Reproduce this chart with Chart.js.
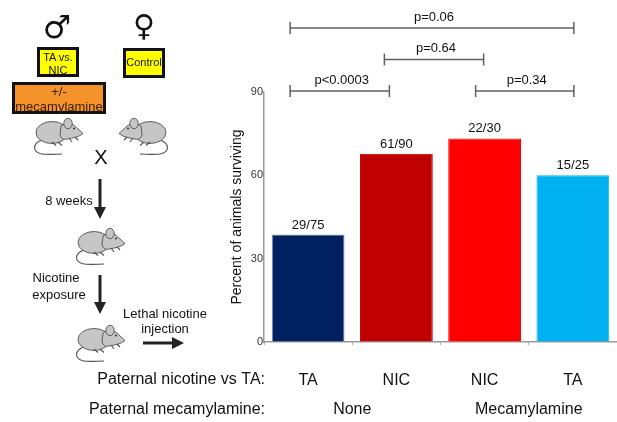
<!DOCTYPE html>
<html>
<head>
<meta charset="utf-8">
<script src="https://cdn.jsdelivr.net/npm/chart.js@4"></script>
<style>
  html, body { margin: 0; padding: 0; background: #fff; }
  #wrap { position: relative; width: 617px; height: 422px; }
  #chart { position: absolute; left: 0; top: 0; }
  #diagram { position: absolute; left: 0; top: 0; pointer-events: none; }
  #diagram text { font-family: "Liberation Sans", Arial, sans-serif; fill: #111; }
</style>
</head>
<body>
<div id="wrap">
  <canvas id="chart" width="617" height="422"></canvas>
  <svg id="diagram" width="230" height="422" viewBox="0 0 230 422">
    <defs>
      <marker id="ah" markerWidth="4" markerHeight="4" refX="2" refY="2" orient="auto" markerUnits="strokeWidth">
        <path d="M0,0 L4,2 L0,4 Z" fill="#222"/>
      </marker>
      <g id="mouse">
        <path d="M10 22 C 1 25, 0 33, 8 35.5 C 14 37, 22 36.5, 30 36" fill="none" stroke="#505050" stroke-width="1.1"/>
        <ellipse cx="20" cy="14.5" rx="16" ry="11" fill="#c6c6c6" stroke="#505050" stroke-width="0.9"/>
        <path d="M29 8 C 34 4, 41 5, 45 10 L 51 15.5 C 47 19, 41 20, 35 21 C 31 22, 29 20, 28 17 Z" fill="#c6c6c6" stroke="#505050" stroke-width="0.9"/>
        <ellipse cx="36" cy="5.5" rx="4.2" ry="5.2" fill="#c6c6c6" stroke="#505050" stroke-width="0.9"/>
        <circle cx="42" cy="10.5" r="1" fill="#333"/>
        <path d="M20 24 L24 27.5 M26 24 L30 27.5 M37 20 L40 24 M43 19 L46 22" stroke="#505050" stroke-width="1.1" fill="none"/>
      </g>
    </defs>
    <!-- sex symbols -->
    <text x="57" y="38" font-size="32" text-anchor="middle" style="font-family:'DejaVu Sans';font-weight:bold">♂</text>
    <text x="144" y="36" font-size="30" text-anchor="middle" style="font-family:'DejaVu Sans';font-weight:bold">♀</text>
    <!-- boxes -->
    <rect x="38.5" y="48.5" width="39" height="27" fill="#ffff00" stroke="#111" stroke-width="3"/>
    <text x="58" y="61" font-size="11" text-anchor="middle">TA vs.</text>
    <text x="58" y="74" font-size="11" text-anchor="middle">NIC</text>
    <rect x="124.5" y="49.5" width="39" height="27" fill="#ffff00" stroke="#111" stroke-width="3"/>
    <text x="144" y="66" font-size="11" text-anchor="middle">Control</text>
    <rect x="13.5" y="83.5" width="91" height="29" fill="#f5922a" stroke="#111" stroke-width="3"/>
    <text x="59" y="96" font-size="13" text-anchor="middle" style="fill:#3a2000">+/-</text>
    <text x="59" y="111" font-size="13" text-anchor="middle" style="fill:#3a2000">mecamylamine</text>
    <!-- mice -->
    <use href="#mouse" transform="translate(32,118)"/>
    <use href="#mouse" transform="translate(170,118) scale(-1,1)"/>
    <text x="101" y="164" font-size="20" text-anchor="middle">X</text>
    <line x1="100" y1="179" x2="100" y2="213" stroke="#222" stroke-width="3" marker-end="url(#ah)"/>
    <text x="69" y="205" font-size="13" text-anchor="middle">8 weeks</text>
    <use href="#mouse" transform="translate(74,228)"/>
    <text x="56" y="282" font-size="13" text-anchor="middle">Nicotine</text>
    <text x="59" y="299" font-size="13" text-anchor="middle">exposure</text>
    <line x1="100" y1="275" x2="100" y2="308" stroke="#222" stroke-width="3" marker-end="url(#ah)"/>
    <text x="165" y="318" font-size="13" text-anchor="middle">Lethal nicotine</text>
    <text x="165" y="333" font-size="13" text-anchor="middle">injection</text>
    <use href="#mouse" transform="translate(74,325)"/>
    <line x1="143" y1="343" x2="178" y2="343" stroke="#222" stroke-width="3" marker-end="url(#ah)"/>
  </svg>
</div>
<script>
// ---- data ----
const categories = ['TA', 'NIC', 'NIC', 'TA'];
const survivalPercent = [38.7, 67.8, 73.3, 60.0];
const countLabels = ['29/75', '61/90', '22/30', '15/25'];
const barColors = ['#002060', '#c00000', '#ff0000', '#00b0f0'];
const mecamylamineGroups = ['None', 'Mecamylamine'];
const groupSpans = [[0, 1], [2, 3]];
const pValueLabels = ['p<0.0003', 'p=0.64', 'p=0.34', 'p=0.06'];
const pFrom = [0, 1, 2, 0];
const pTo = [1, 2, 3, 3];
const pTier = [0, 1, 0, 2];
const yTicks = [0, 30, 60, 90];
const rowLabels = ['Paternal nicotine vs TA:', 'Paternal mecamylamine:'];
const yTitle = 'Percent of animals surviving';

const FONT = '"Liberation Sans", Arial, sans-serif';
Chart.defaults.font.family = FONT;

const annot = {
  id: 'annot',
  afterDatasetsDraw(chart) {
    const ctx = chart.ctx;
    const xs = chart.scales.x, ys = chart.scales.y;
    const meta = chart.getDatasetMeta(0);
    ctx.save();
    // counts above bars
    ctx.fillStyle = '#111';
    ctx.font = '13px ' + FONT;
    ctx.textAlign = 'center';
    ctx.textBaseline = 'bottom';
    meta.data.forEach((bar, i) => {
      ctx.fillText(countLabels[i], bar.x, bar.y - 3);
    });
    // significance brackets
    const startOff = [-18, -12, -9, -18];
    const endOff = [-7, -1, 1, 1];
    ctx.strokeStyle = '#606060';
    ctx.lineWidth = 1.5;
    pValueLabels.forEach((lab, i) => {
      const x1 = xs.getPixelForValue(pFrom[i]) + startOff[i];
      const x2 = xs.getPixelForValue(pTo[i]) + endOff[i];
      const y = chart.chartArea.top - 1 - pTier[i] * 31.5;
      ctx.beginPath();
      ctx.moveTo(x1, y); ctx.lineTo(x2, y);
      ctx.moveTo(x1, y - 6); ctx.lineTo(x1, y + 6);
      ctx.moveTo(x2, y - 6); ctx.lineTo(x2, y + 6);
      ctx.stroke();
      ctx.fillStyle = '#111';
      ctx.font = '13px ' + FONT;
      ctx.textAlign = 'center';
      ctx.textBaseline = 'middle';
      ctx.fillText(lab, (x1 + x2) / 2 + 2, y - 11);
    });
    // row labels
    ctx.font = '16px ' + FONT;
    ctx.fillStyle = '#111';
    ctx.textAlign = 'right';
    ctx.textBaseline = 'middle';
    ctx.fillText(rowLabels[0], chart.chartArea.left + 1, 380);
    ctx.fillText(rowLabels[1], chart.chartArea.left + 1, 410);
    ctx.textAlign = 'center';
    mecamylamineGroups.forEach((g, i) => {
      const cx = (xs.getPixelForValue(groupSpans[i][0]) + xs.getPixelForValue(groupSpans[i][1])) / 2;
      ctx.fillText(g, cx, 410);
    });
    ctx.restore();
  }
};

new Chart(document.getElementById('chart'), {
  type: 'bar',
  data: {
    labels: categories,
    datasets: [{
      data: survivalPercent,
      backgroundColor: barColors,
      borderColor: ['#7f8fb0', '#c00000', '#ff0000', '#00b0f0'],
      borderWidth: 1,
      categoryPercentage: 1,
      barPercentage: 0.825
    }]
  },
  options: {
    responsive: false,
    animation: false,
    devicePixelRatio: 1,
    layout: { padding: { left: 225, top: 92, right: 0, bottom: 0 } },
    plugins: { legend: { display: false }, tooltip: { enabled: false } },
    scales: {
      x: {
        grid: { display: true, drawOnChartArea: false, drawTicks: true, tickLength: 3, color: '#aaa' },
        border: { display: true, color: '#999', width: 1.5 },
        ticks: { color: '#111', font: { size: 16 }, padding: 26 },
        afterFit(s) { s.height = 80; }
      },
      y: {
        min: 0, max: 90,
        afterBuildTicks(s) { s.ticks = yTicks.map(v => ({ value: v })); },
        grid: { display: true, drawOnChartArea: false, drawTicks: false },
        border: { display: true, color: '#999', width: 1.5 },
        ticks: { color: '#333', font: { size: 11 }, padding: 1 },
        title: { display: true, text: yTitle, color: '#111', font: { size: 14 }, padding: { top: 4, bottom: 0 } },
        afterFit(s) { s.width = 39; }
      }
    }
  },
  plugins: [annot]
});
</script>
</body>
</html>
